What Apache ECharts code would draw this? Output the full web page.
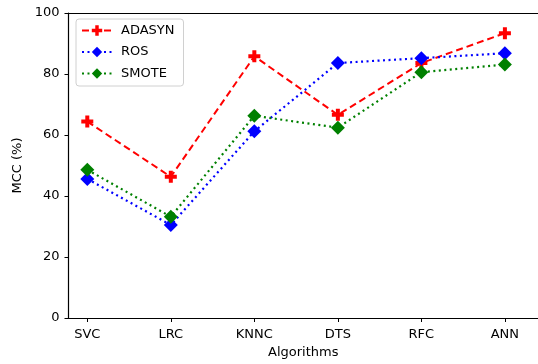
<!DOCTYPE html>
<html>
<head>
<meta charset="utf-8">
<script src="https://cdn.jsdelivr.net/npm/echarts@6/dist/echarts.min.js"></script>
<style>html,body{margin:0;padding:0;background:#fff;overflow:hidden}#c{width:538px;height:364px}</style>
</head>
<body>
<div id="c"></div>
<script>
const categories = ['SVC', 'LRC', 'KNNC', 'DTS', 'RFC', 'ANN'];
const adasyn = [64.4, 46.3, 85.8, 66.6, 83.6, 93.4];
const ros = [45.6, 30.5, 61.2, 83.6, 85.2, 86.8];
const smote = [48.6, 33.2, 66.3, 62.4, 80.6, 83.1];
const yTicks = [0, 20, 40, 60, 80, 100];

const font = 'DejaVu Sans';
const plus = 'path://M-1,-3 L1,-3 L1,-1 L3,-1 L3,1 L1,1 L1,3 L-1,3 L-1,1 L-3,1 L-3,-1 L-1,-1 Z';
const idx = categories.map((_, i) => i);
const toPairs = arr => arr.map((v, i) => [i, v]);
const xMin = -0.225, xMax = -0.225 + 470.5 / 83.7;

const chart = echarts.init(document.getElementById('c'), null, {renderer: 'canvas'});
chart.setOption({
  animation: false,
  backgroundColor: '#fff',
  grid: {left: 68.5, top: 13, right: -1, bottom: 43, show: false, containLabel: false},
  legend: {
    orient: 'vertical', left: 76, top: 19,
    padding: [5, 9, 6, 5], itemGap: 8.5, itemWidth: 30, itemHeight: 13,
    backgroundColor: '#fff', borderColor: '#d0d0d0', borderWidth: 1, borderRadius: 3,
    textStyle: {fontFamily: font, fontSize: 13, color: '#000', padding: [0, 0, 0, 4]},
    data: ['ADASYN', 'ROS', 'SMOTE']
  },
  xAxis: [{
    type: 'value', min: xMin, max: xMax,
    name: 'Algorithms', nameLocation: 'middle', nameGap: 28,
    nameTextStyle: {fontFamily: font, fontSize: 13, color: '#000'},
    axisLine: {show: true, onZero: false, lineStyle: {color: '#000', width: 1.2}},
    axisTick: {show: true, length: 4, lineStyle: {color: '#000'}, customValues: idx},
    axisLabel: {fontFamily: font, fontSize: 13, color: '#000', margin: 10, customValues: idx,
      formatter: v => categories[Math.round(v)]},
    splitLine: {show: false}
  }, {
    type: 'value', position: 'top', min: xMin, max: xMax,
    axisLine: {show: true, onZero: false, lineStyle: {color: '#000', width: 1.2}},
    axisTick: {show: false}, axisLabel: {show: false}, splitLine: {show: false}
  }],
  yAxis: {
    type: 'value', min: 0, max: 100, interval: 20,
    name: 'MCC (%)', nameLocation: 'middle', nameGap: 41,
    nameTextStyle: {fontFamily: font, fontSize: 13, color: '#000'},
    axisLine: {show: true, onZero: false, lineStyle: {color: '#000', width: 1.2}},
    axisTick: {show: true, length: 4, lineStyle: {color: '#000'}},
    axisLabel: {fontFamily: font, fontSize: 13, color: '#000', margin: 9,
      customValues: yTicks},
    splitLine: {show: false}
  },
  series: [
    {name: 'ADASYN', type: 'line', data: toPairs(adasyn), symbol: plus, symbolSize: 12,
      itemStyle: {color: '#ff0000'}, lineStyle: {color: '#ff0000', width: 2, type: [7, 4]}, z: 3},
    {name: 'ROS', type: 'line', data: toPairs(ros), symbol: 'diamond', symbolSize: 14,
      itemStyle: {color: '#0000ff'}, lineStyle: {color: '#0000ff', width: 2.2, type: [2, 3.5]}, z: 4},
    {name: 'SMOTE', type: 'line', data: toPairs(smote), symbol: 'diamond', symbolSize: 14,
      itemStyle: {color: '#008000'}, lineStyle: {color: '#008000', width: 2.2, type: [2, 3.5]}, z: 5}
  ]
});
</script>
</body>
</html>
